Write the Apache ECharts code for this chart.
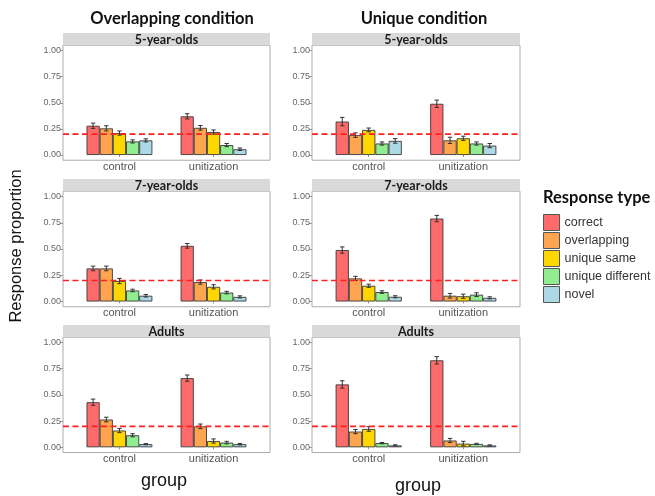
<!DOCTYPE html>
<html>
<head>
<meta charset="utf-8">
<script src="https://cdn.jsdelivr.net/npm/echarts@6/dist/echarts.min.js"></script>
<style>html,body{margin:0;padding:0;background:#fff}#c{width:655px;height:496px}</style>
</head>
<body>
<div id="c"></div>
<script>
// ---- data ----
const categories = ['control', 'unitization'];
const responseTypes = ['correct', 'overlapping', 'unique same', 'unique different', 'novel'];
const conditions = ['Overlapping condition', 'Unique condition'];
const ageGroups = ['5-year-olds', '7-year-olds', 'Adults'];
const yTicks = [0, 0.25, 0.5, 0.75, 1];
const chanceLevel = 0.2;

// means (order = responseTypes)
const ov5Control = [0.28, 0.255, 0.21, 0.13, 0.14];
const ov5Unit    = [0.37, 0.26, 0.22, 0.095, 0.055];
const un5Control = [0.32, 0.19, 0.24, 0.11, 0.135];
const un5Unit    = [0.49, 0.14, 0.16, 0.11, 0.09];
const ov7Control = [0.315, 0.315, 0.195, 0.105, 0.055];
const ov7Unit    = [0.53, 0.185, 0.14, 0.085, 0.044];
const un7Control = [0.49, 0.22, 0.15, 0.09, 0.045];
const un7Unit    = [0.79, 0.055, 0.05, 0.065, 0.035];
const ovAControl = [0.43, 0.265, 0.16, 0.115, 0.03];
const ovAUnit    = [0.66, 0.2, 0.06, 0.045, 0.03];
const unAControl = [0.60, 0.15, 0.175, 0.04, 0.018];
const unAUnit    = [0.83, 0.065, 0.035, 0.032, 0.018];

// standard errors
const ov5ControlSE = [0.025, 0.025, 0.02, 0.015, 0.015];
const ov5UnitSE    = [0.025, 0.022, 0.02, 0.015, 0.012];
const un5ControlSE = [0.04, 0.022, 0.018, 0.015, 0.022];
const un5UnitSE    = [0.035, 0.03, 0.02, 0.015, 0.02];
const ov7ControlSE = [0.022, 0.022, 0.025, 0.012, 0.012];
const ov7UnitSE    = [0.022, 0.02, 0.02, 0.012, 0.01];
const un7ControlSE = [0.03, 0.02, 0.015, 0.012, 0.01];
const un7UnitSE    = [0.03, 0.022, 0.02, 0.018, 0.01];
const ovAControlSE = [0.03, 0.022, 0.02, 0.015, 0.005];
const ovAUnitSE    = [0.03, 0.022, 0.02, 0.012, 0.007];
const unAControlSE = [0.035, 0.02, 0.022, 0.006, 0.006];
const unAUnitSE    = [0.035, 0.02, 0.022, 0.006, 0.005];

// panels: [row][col]
const panelMeans = [
  [[ov5Control, ov5Unit], [un5Control, un5Unit]],
  [[ov7Control, ov7Unit], [un7Control, un7Unit]],
  [[ovAControl, ovAUnit], [unAControl, unAUnit]]
];
const panelSE = [
  [[ov5ControlSE, ov5UnitSE], [un5ControlSE, un5UnitSE]],
  [[ov7ControlSE, ov7UnitSE], [un7ControlSE, un7UnitSE]],
  [[ovAControlSE, ovAUnitSE], [unAControlSE, unAUnitSE]]
];

// ---- layout / style ----
const colors = ['#ff6a6a', '#ffa54f', '#ffd700', '#90ee90', '#add8e6'];
const colX = [[63, 270], [312, 520]];
const rowY = [[50.5, 155], [196.5, 301.5], [342.5, 447.3]]; // y of 1.00 and 0.00
const EXP = 0.05;
const STRIP_H = 12.3;

const chart = echarts.init(document.getElementById('c'), null, {renderer: 'canvas'});
const grids = [], xAxes = [], yAxes = [], series = [], graphics = [];

for (let r = 0; r < 3; r++) {
  for (let c = 0; c < 2; c++) {
    const [pl, pr] = colX[c];
    const pw = pr - pl;
    const [y1, y0] = rowY[r];
    const unitPx = y0 - y1;
    const padY = unitPx * EXP;
    const frameTop = y1 - padY, frameH = unitPx + 2 * padY;
    const band = pw / 2.2;
    const padX = band * 0.1;
    const gi = grids.length;
    // frame grid
    grids.push({left: pl, top: frameTop, width: pw, height: frameH, show: true,
      backgroundColor: '#fff', borderColor: '#ababab', borderWidth: 1, containLabel: false, outerBoundsMode: 'none'});
    xAxes.push({type: 'value', gridIndex: gi, min: 0, max: 1, show: false});
    yAxes.push({type: 'value', gridIndex: gi, min: -EXP, max: 1 + EXP, show: false});
    // data grid
    grids.push({left: pl + padX, top: y1, width: pw - 2 * padX, height: unitPx, show: false, containLabel: false, outerBoundsMode: 'none'});
    xAxes.push({type: 'category', gridIndex: gi + 1, data: categories, offset: padY,
      axisLine: {show: false}, axisTick: {show: true, length: 2, alignWithLabel: true, lineStyle: {color: '#999'}},
      axisLabel: {fontSize: 11, color: '#555', margin: 1, fontFamily: 'Liberation Sans'}});
    yAxes.push({type: 'value', gridIndex: gi + 1, min: 0, max: 1, interval: 0.25, offset: padX,
      splitLine: {show: false}, axisLine: {show: false},
      axisTick: {show: true, length: 3, lineStyle: {color: '#999'}},
      axisLabel: {fontSize: 9, color: '#666', margin: 2, fontFamily: 'Liberation Sans',
        formatter: v => yTicks.indexOf(v) >= 0 ? v.toFixed(2) : ''}});

    const means = panelMeans[r][c];
    const ses = panelSE[r][c];
    responseTypes.forEach((name, s) => {
      series.push({type: 'bar', name, xAxisIndex: gi + 1, yAxisIndex: gi + 1,
        data: categories.map((_, k) => means[k][s]),
        barWidth: '14%', barGap: '0%', z: 3,
        itemStyle: {color: colors[s], borderColor: '#3a3a3a', borderWidth: 0.9},
        emphasis: {disabled: true}});
    });
    const errData = [];
    categories.forEach((_, k) => responseTypes.forEach((_, s) => errData.push([k, means[k][s], ses[k][s], s])));
    series.push({type: 'custom', xAxisIndex: gi + 1, yAxisIndex: gi + 1, z: 4, silent: true,
      data: errData, encode: {x: 0, y: 1},
      renderItem: (params, api) => {
        const k = api.value(0), v = api.value(1), se = api.value(2), s = api.value(3);
        const bw = api.size([1, 0])[0] * 0.14;
        const cx = api.coord([k, 0])[0] + (s - 2) * bw;
        const yt = api.coord([k, v + se])[1];
        const yb = api.coord([k, Math.max(0, v - se)])[1];
        const hw = 2.2;
        const st = {stroke: '#333', lineWidth: 1};
        return {type: 'group', children: [
          {type: 'line', shape: {x1: cx, y1: yt, x2: cx, y2: yb}, style: st},
          {type: 'line', shape: {x1: cx - hw, y1: yt, x2: cx + hw, y2: yt}, style: st},
          {type: 'line', shape: {x1: cx - hw, y1: yb, x2: cx + hw, y2: yb}, style: st}
        ]};
      }});
    // chance line across full panel
    series.push({type: 'line', xAxisIndex: gi, yAxisIndex: gi, z: 5, silent: true, symbol: 'none',
      data: [[0, chanceLevel], [1, chanceLevel]],
      lineStyle: {color: '#ff2020', width: 1.6, type: [6, 3.5]}});

    // strip
    graphics.push({type: 'rect', shape: {x: pl, y: frameTop - STRIP_H, width: pw, height: STRIP_H},
      style: {fill: '#d9d9d9'}, z: 10});
    graphics.push({type: 'text', z: 11, style: {text: ageGroups[r], x: pl + pw / 2, y: frameTop - STRIP_H / 2 + 0.5,
      align: 'center', verticalAlign: 'middle', fontSize: 12.5, fontWeight: 'bold', fontFamily: 'Lato', fill: '#1a1a1a'}});
  }
}

// titles
graphics.push({type: 'text', style: {text: conditions[0], x: 172, y: 19, align: 'center', verticalAlign: 'middle',
  fontSize: 16.5, fontWeight: 'bold', fontFamily: 'Lato', fill: '#111'}});
graphics.push({type: 'text', style: {text: conditions[1], x: 424, y: 19, align: 'center', verticalAlign: 'middle',
  fontSize: 16.5, fontWeight: 'bold', fontFamily: 'Lato', fill: '#111'}});
graphics.push({type: 'text', x: 16, y: 246, rotation: Math.PI / 2, style: {text: 'Response proportion', x: 0, y: 0,
  align: 'center', verticalAlign: 'middle', fontSize: 16.5, fontFamily: 'Liberation Sans', fill: '#111'}});
graphics.push({type: 'text', style: {text: 'group', x: 164, y: 481, align: 'center', verticalAlign: 'middle',
  fontSize: 18, fontFamily: 'Liberation Sans', fill: '#111'}});
graphics.push({type: 'text', style: {text: 'group', x: 418, y: 486, align: 'center', verticalAlign: 'middle',
  fontSize: 18, fontFamily: 'Liberation Sans', fill: '#111'}});
graphics.push({type: 'text', style: {text: 'Response type', x: 543, y: 198, align: 'left', verticalAlign: 'middle',
  fontSize: 16.5, fontWeight: 'bold', fontFamily: 'Lato', fill: '#111'}});

chart.setOption({
  animation: false,
  grid: grids, xAxis: xAxes, yAxis: yAxes, series,
  legend: {data: responseTypes, orient: 'vertical', left: 543, top: 214, padding: 0,
    itemWidth: 16, itemHeight: 16, itemGap: 1,
    icon: 'rect', selectedMode: false,
    itemStyle: {borderColor: '#555', borderWidth: 1},
    textStyle: {fontSize: 12.5, color: '#333', fontFamily: 'Liberation Sans'}},
  graphic: graphics
});
</script>
</body>
</html>
